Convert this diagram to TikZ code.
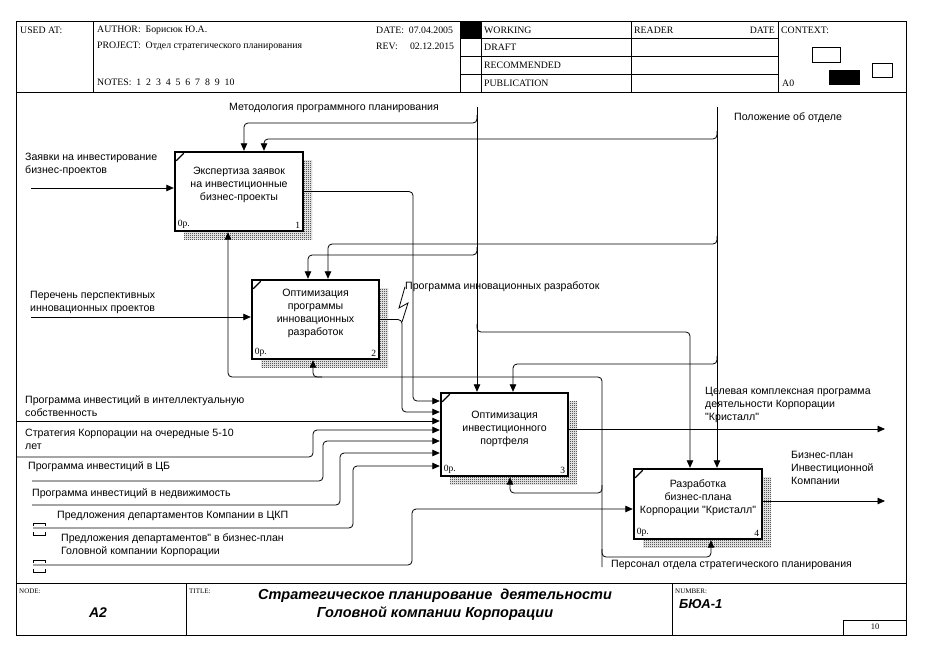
\documentclass[tikz,border=0pt]{standalone}
\usepackage{fontspec}
\setmainfont{Liberation Serif}
\newfontfamily\arialf{Liberation Sans}
\usetikzlibrary{arrows.meta,patterns,shadows}

\pgfdeclarepatternformonly{checker}{\pgfpointorigin}{\pgfpoint{2pt}{2pt}}{\pgfpoint{2pt}{2pt}}{%
  \pgfpathrectangle{\pgfpointorigin}{\pgfpoint{1pt}{1pt}}%
  \pgfpathrectangle{\pgfpoint{1pt}{1pt}}{\pgfpoint{1pt}{1pt}}%
  \pgfusepath{fill}}

\begin{document}
\begin{tikzpicture}[
    x=1pt, y=-1pt,
    lbl/.style={font=\arialf\fontsize{10.6}{13}\selectfont, anchor=north west, inner sep=0pt, align=left},
    hdr/.style={font=\fontsize{9.8}{11}\selectfont, anchor=west, inner sep=0pt},
    tiny/.style={font=\fontsize{7}{8}\selectfont, anchor=west, inner sep=0pt},
    numtxt/.style={font=\fontsize{9.5}{10}\selectfont, inner sep=1.5pt},
    actbox/.style={draw, line width=2.4pt, fill=white, inner sep=0pt,
        general shadow={shadow xshift=9pt, shadow yshift=-8pt, pattern=checker, pattern color=black}},
    boxtext/.style={font=\arialf\fontsize{10.6}{13}\selectfont, align=center, inner sep=0pt},
    arr/.style={-{Triangle[length=7.5pt,width=6.5pt]}, rounded corners=4pt, line width=0.8pt},
    ln/.style={line width=0.8pt}
]
\useasboundingbox (0,0) rectangle (927,662);

% frame and header
\draw[line width=0.8pt] (16,21) rectangle (906,635);
\draw[ln] (16,92) -- (906,92);
\draw[ln] (16,583) -- (906,583);
\foreach \x in {93,460,481,631,778}
    \draw[ln] (\x,21) -- (\x,92);
\foreach \y in {38,56,74}
    \draw[ln] (460,\y) -- (778,\y);
\fill (460,21) rectangle (481,38);
\draw[ln] (812,47) rectangle (840,62);
\fill (829,70) rectangle (860,85);
\draw[ln] (872,63) rectangle (892,77);

\node[hdr] (usedat) at (20,30) {USED AT:};
\node[hdr] (author) at (97,30) {AUTHOR:\ \ Борисюк Ю.А.};
\node[hdr] (project) at (97,46) {PROJECT:\ \ Отдел стратегического планирования};
\node[hdr] (notes) at (97,82) {NOTES:\ \ 1\ \ 2\ \ 3\ \ 4\ \ 5\ \ 6\ \ 7\ \ 8\ \ 9\ \ 10};
\node[hdr] (date) at (376,30) {DATE:\ \ 07.04.2005};
\node[hdr] (rev) at (376,46) {REV:\ \ \ \ \ 02.12.2015};
\node[hdr] (working) at (484,30) {WORKING};
\node[hdr] (draft) at (484,47) {DRAFT};
\node[hdr] (recom) at (484,65) {RECOMMENDED};
\node[hdr] (publ) at (484,83) {PUBLICATION};
\node[hdr] (reader) at (634,30) {READER};
\node[hdr, anchor=east] (rdate) at (775,30) {DATE};
\node[hdr] (context) at (781,30) {CONTEXT:};
\node[hdr] (ctxnode) at (782,83) {A0};

% footer
\draw[ln] (186,583) -- (186,635);
\draw[ln] (672,583) -- (672,635);
\draw[ln] (843,620) rectangle (906,635);
\node[tiny] (nodelbl) at (19,591) {NODE:};
\node[tiny] (titlelbl) at (189,591) {TITLE:};
\node[tiny] (numlbl) at (675,591) {NUMBER:};
\node[font=\arialf\bfseries\itshape\fontsize{14}{16}\selectfont] (nodeid) at (98,613) {A2};
\node[font=\arialf\bfseries\itshape\fontsize{14.5}{18}\selectfont, align=center] (title) at (435,605)
    {Стратегическое планирование\ \ деятельности\\Головной компании Корпорации};
\node[font=\arialf\bfseries\itshape\fontsize{13}{15}\selectfont, anchor=west, inner sep=0pt] (number) at (679,604) {БЮА-1};
\node[font=\fontsize{8.5}{10}\selectfont] (page) at (875,627) {10};

% activity boxes
\node[actbox, minimum width=128pt, minimum height=79pt] (b1) at (239,191.5) {};
\node[actbox, minimum width=127pt, minimum height=79pt] (b2) at (315.5,319.5) {};
\node[actbox, minimum width=127pt, minimum height=83pt] (b3) at (504.5,434.5) {};
\node[actbox, minimum width=128pt, minimum height=70pt] (b4) at (698,504) {};

\node[boxtext] (t1) at ([yshift=6.5pt]b1.center) {Экспертиза заявок\\на инвестиционные\\бизнес-проекты};
\node[boxtext] (t2) at ([yshift=6pt]b2.center) {Оптимизация\\программы\\инновационных\\разработок};
\node[boxtext] (t3) at ([yshift=6pt]b3.center) {Оптимизация\\инвестиционного\\портфеля};
\node[boxtext] (t4) at ([yshift=6pt]b4.center) {Разработка\\бизнес-плана\\Корпорации "Кристалл"};

\foreach \b/\n in {b1/1,b2/2,b3/3,b4/4} {
    \draw[line width=1.2pt] ([shift={(2.4,10)}]\b.north west) -- ([shift={(10,2.4)}]\b.north west);
    \node[numtxt, anchor=south west] (\b zero) at ([shift={(2.4,-2.4)}]\b.south west) {0р.};
    \node[numtxt, anchor=south east] (\b num) at ([shift={(-2.4,-2.4)}]\b.south east) {\n};
}

% arrow labels
\node[lbl] (lblMet) at (229,103) {Методология программного планирования};
\node[lbl] (lblPol) at (734,112.5) {Положение об отделе};
\node[lbl] (lblZ) at (25,152.5) {Заявки на инвестирование\\бизнес-проектов};
\node[lbl] (lblPer) at (30,291.5) {Перечень перспективных\\инновационных проектов};
\node[lbl] (lblPIR) at (405,281.5) {Программа инновационных разработок};
\node[lbl] (lblIS) at (25,395) {Программа инвестиций в интеллектуальную\\собственность};
\node[lbl] (lblStr) at (25,428.5) {Стратегия Корпорации на очередные 5-10\\лет};
\node[lbl] (lblCB) at (28,461.5) {Программа инвестиций в ЦБ};
\node[lbl] (lblNed) at (32,488.5) {Программа инвестиций в недвижимость};
\node[lbl] (lblCKP) at (57,511) {Предложения департаментов Компании в ЦКП};
\node[lbl] (lblBP) at (61,533.5) {Предложения департаментов" в бизнес-план\\Головной компании Корпорации};
\node[lbl] (lblCel) at (705,387.5) {Целевая комплексная программа\\деятельности Корпорации\\"Кристалл"};
\node[lbl] (lblBiz) at (791,450.5) {Бизнес-план\\Инвестиционной\\Компании};
\node[lbl] (lblPers) at (611,559.5) {Персонал отдела стратегического планирования};

% free ends
\foreach \n/\x/\y in {met/477/107, pol/717/107, pers/602/567,
        inZ/31/188, inPer/31/317, inIS/16/421, inStr/16/457, inCB/32/481,
        inNed/32/505, inCKP/33/528, inBP/33/565, outCel/885/429, outBiz/885/501}
    \coordinate (\n) at (\x,\y);

% controls
\draw[arr] (met) -- (met |- b3.north);
\draw[arr] (met |- 0,115) |- (244,123) -- (244,0 |- b1.north);
\draw[arr] (met |- 0,247) |- (308,255) -- (308,0 |- b2.north);
\draw[arr] (met |- 0,324) |- (690,332) -- (690,0 |- b4.north);
\draw[arr] (pol) -- (pol |- b4.north);
\draw[arr] (pol |- 0,131) |- (264,139) -- (264,0 |- b1.north);
\draw[arr] (pol |- 0,236) |- (328,244) -- (328,0 |- b2.north);
\draw[arr] (pol |- 0,356) |- (513,364) -- (513,0 |- b3.north);

% mechanisms
\draw[arr] (pers) |- (228,377) -- (228,0 |- b1.south);
\draw[arr] (322,377) -| (313,0 |- b2.south);
\draw[arr] (pers |- 0,485) |- (510,493) -- (510,0 |- b3.south);
\draw[arr] (pers |- 0,549) |- (711,557) -- (711,0 |- b4.south);

% outputs
\draw[arr] (b1.east) -| (413,401) -- (b3.west |- 0,401);
\draw[arr] (b2.east) -| (402,412) -- (b3.west |- 0,412);
\draw[ln] (402,322) -- (408,303) -- (399,308) -- (lblPIR.west);
\draw[arr] (b3.east |- outCel) -- (outCel);
\draw[arr] (b4.east |- outBiz) -- (outBiz);

% inputs
\draw[arr] (inZ) -- (b1.west |- inZ);
\draw[arr] (inPer) -- (b2.west |- inPer);
\draw[arr] (inIS) -- (b3.west |- inIS);
\draw[arr] (inStr) -| (313,430) -- (b3.west |- 0,430);
\draw[arr] (inCB) -| (323,441) -- (b3.west |- 0,441);
\draw[arr] (inNed) -| (340,453) -- (b3.west |- 0,453);
\draw[arr] (inCKP) -| (353,466) -- (b3.west |- 0,466);
\draw[arr] (inBP) -| (412,509) -- (b4.west |- 0,509);

% tunnels
\foreach \t in {inCKP,inBP} {
    \draw[ln] ([shift={(0,-2)}]\t) -- ++(0,-3) -- ++(12,0) -- ++(0,3);
    \draw[ln] ([shift={(0,4)}]\t) -- ++(0,3) -- ++(12,0) -- ++(0,-3);
}
\end{tikzpicture}
\end{document}
